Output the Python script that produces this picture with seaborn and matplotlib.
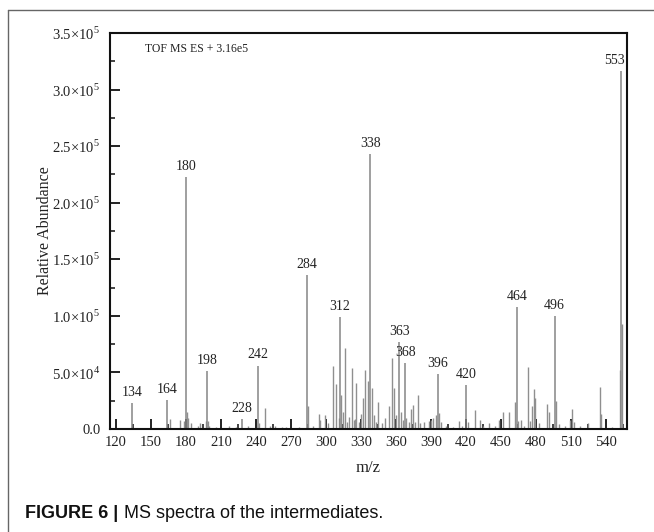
import matplotlib
matplotlib.use("Agg")
import matplotlib.pyplot as plt
from matplotlib.lines import Line2D
from matplotlib.ticker import FuncFormatter, MultipleLocator
import numpy as np
import seaborn as sns

# labelled peaks (m/z, abundance)
label_mz = [134, 164, 180, 198, 228, 242, 284, 312, 338, 363, 368, 396, 420, 464, 496, 553]
label_int = [0.23e5, 0.255e5, 2.23e5, 0.51e5, 0.085e5, 0.56e5, 1.36e5, 0.99e5, 2.43e5,
             0.77e5, 0.58e5, 0.485e5, 0.39e5, 1.08e5, 1.0e5, 3.16e5]

# smaller unlabelled peaks
minor_mz = [166.5, 175, 178, 181, 182, 184, 190, 192, 197, 199, 200, 206, 217, 223, 233,
            243, 248, 252, 256, 262, 266, 277, 285, 289, 294, 295, 299, 302, 306, 309,
            311, 313, 315, 316, 318, 320, 322, 324, 325, 326, 328, 330, 332, 333.5, 336,
            339.5, 341, 343, 345, 348, 351, 354, 356.5, 358, 360, 364, 366, 369, 371,
            373, 374.5, 376, 378.5, 381, 384, 388, 390, 392, 394, 397, 399, 403, 409,
            414, 417, 422, 428, 432, 435, 440, 445, 448, 451.5, 457, 462, 465, 467, 470,
            473, 474.5, 476.5, 478, 479.5, 483, 489.5, 491, 497.5, 500, 505, 509, 511,
            513, 518, 525, 534.5, 536, 545, 552, 554]
minor_int = [0.09, 0.08, 0.07, 0.15, 0.10, 0.05, 0.03, 0.05, 0.07, 0.07, 0.03, 0.02, 0.03,
             0.02, 0.03, 0.05, 0.19, 0.03, 0.03, 0.02, 0.02, 0.02, 0.20, 0.03, 0.13, 0.08,
             0.12, 0.05, 0.56, 0.40, 0.10, 0.30, 0.15, 0.72, 0.06, 0.11, 0.54, 0.08, 0.09,
             0.41, 0.06, 0.13, 0.27, 0.52, 0.42, 0.36, 0.12, 0.06, 0.24, 0.05, 0.10, 0.20,
             0.63, 0.36, 0.12, 0.15, 0.08, 0.10, 0.06, 0.18, 0.21, 0.06, 0.30, 0.05, 0.06,
             0.07, 0.08, 0.10, 0.12, 0.14, 0.06, 0.03, 0.02, 0.07, 0.03, 0.06, 0.17, 0.08,
             0.03, 0.05, 0.03, 0.08, 0.15, 0.15, 0.24, 0.07, 0.08, 0.03, 0.55, 0.07, 0.20,
             0.35, 0.27, 0.05, 0.22, 0.15, 0.25, 0.04, 0.03, 0.08, 0.18, 0.06, 0.03, 0.05,
             0.37, 0.13, 0.02, 0.52, 0.93]
minor_int = [v * 1e5 for v in minor_int]

x_ticks = list(range(120, 541, 30))

sns.set_theme(style="ticks")
plt.rcParams["font.family"] = ["Liberation Serif", "DejaVu Serif"]
plt.rcParams["mathtext.fontset"] = "custom"
plt.rcParams["mathtext.rm"] = "Liberation Serif"

W, H = 654, 532
fig = plt.figure(figsize=(W / 100, H / 100), dpi=100)
ax = fig.add_axes([110 / W, 1 - 429 / H, 517 / W, 396 / H])

ax.vlines(minor_mz, 0, minor_int, color="#8f8f8f", lw=1.0)
ax.vlines(label_mz, 0, label_int, color="#858585", lw=1.1)

for mz, v in zip(label_mz, label_int):
    dx = -5 if mz == 553 else 0
    ax.annotate(str(mz), (mz, v), xytext=(dx, 3), textcoords="offset points",
                ha="center", va="bottom", fontsize=10, color="#222222")

ax.text(0.068, 0.96, "TOF MS ES + 3.16e5", transform=ax.transAxes,
        fontsize=8.5, va="center", ha="left", color="#222222")

ax.set_xlim(115, 558)
ax.set_ylim(0, 3.5e5)
ax.set_xticks(x_ticks)
ax.xaxis.set_minor_locator(MultipleLocator(15))
ax.yaxis.set_major_locator(MultipleLocator(0.5e5))
ax.yaxis.set_minor_locator(MultipleLocator(0.25e5))


def sci(v, pos):
    if v <= 0:
        return "0.0"
    e = int(np.floor(np.log10(v)))
    return f"{v / 10 ** e:.1f}×10$^{{{e}}}$"


ax.yaxis.set_major_formatter(FuncFormatter(sci))
ax.tick_params(which="major", direction="in", length=7, width=1.3, labelsize=10.5,
               color="#111111", labelcolor="#222222")
ax.tick_params(which="minor", direction="in", length=3.5, width=1.1, color="#111111")
ax.tick_params(axis="y", which="major", pad=7)
ax.tick_params(axis="x", which="major", pad=5)
for s in ax.spines.values():
    s.set_linewidth(1.5)
    s.set_color("#111111")

ax.set_xlabel("m/z", fontsize=12, color="#222222", labelpad=8)
ax.set_ylabel("Relative Abundance", fontsize=11.5, color="#222222")
ax.yaxis.set_label_coords((53 - 110) / 517, 0.5)

# outer figure frame
fx, fy = 8 / W, 1 - 10 / H
fig.add_artist(Line2D([fx, fx], [0, fy], transform=fig.transFigure, color="#666666", lw=1))
fig.add_artist(Line2D([fx, 1], [fy, fy], transform=fig.transFigure, color="#666666", lw=1))

cap_font = ["Liberation Sans", "DejaVu Sans"]
t = fig.text(25 / W, 1 - 514 / H, "FIGURE 6 |", fontsize=13, fontweight="bold",
             family=cap_font, va="center", ha="left", color="#111111")
fig.canvas.draw()
bb = t.get_window_extent()
fig.text((bb.x1 + 6) / W, 1 - 514 / H, "MS spectra of the intermediates.", fontsize=13,
         family=cap_font, va="center", ha="left", color="#111111")

fig.savefig("out.png", dpi=100)
